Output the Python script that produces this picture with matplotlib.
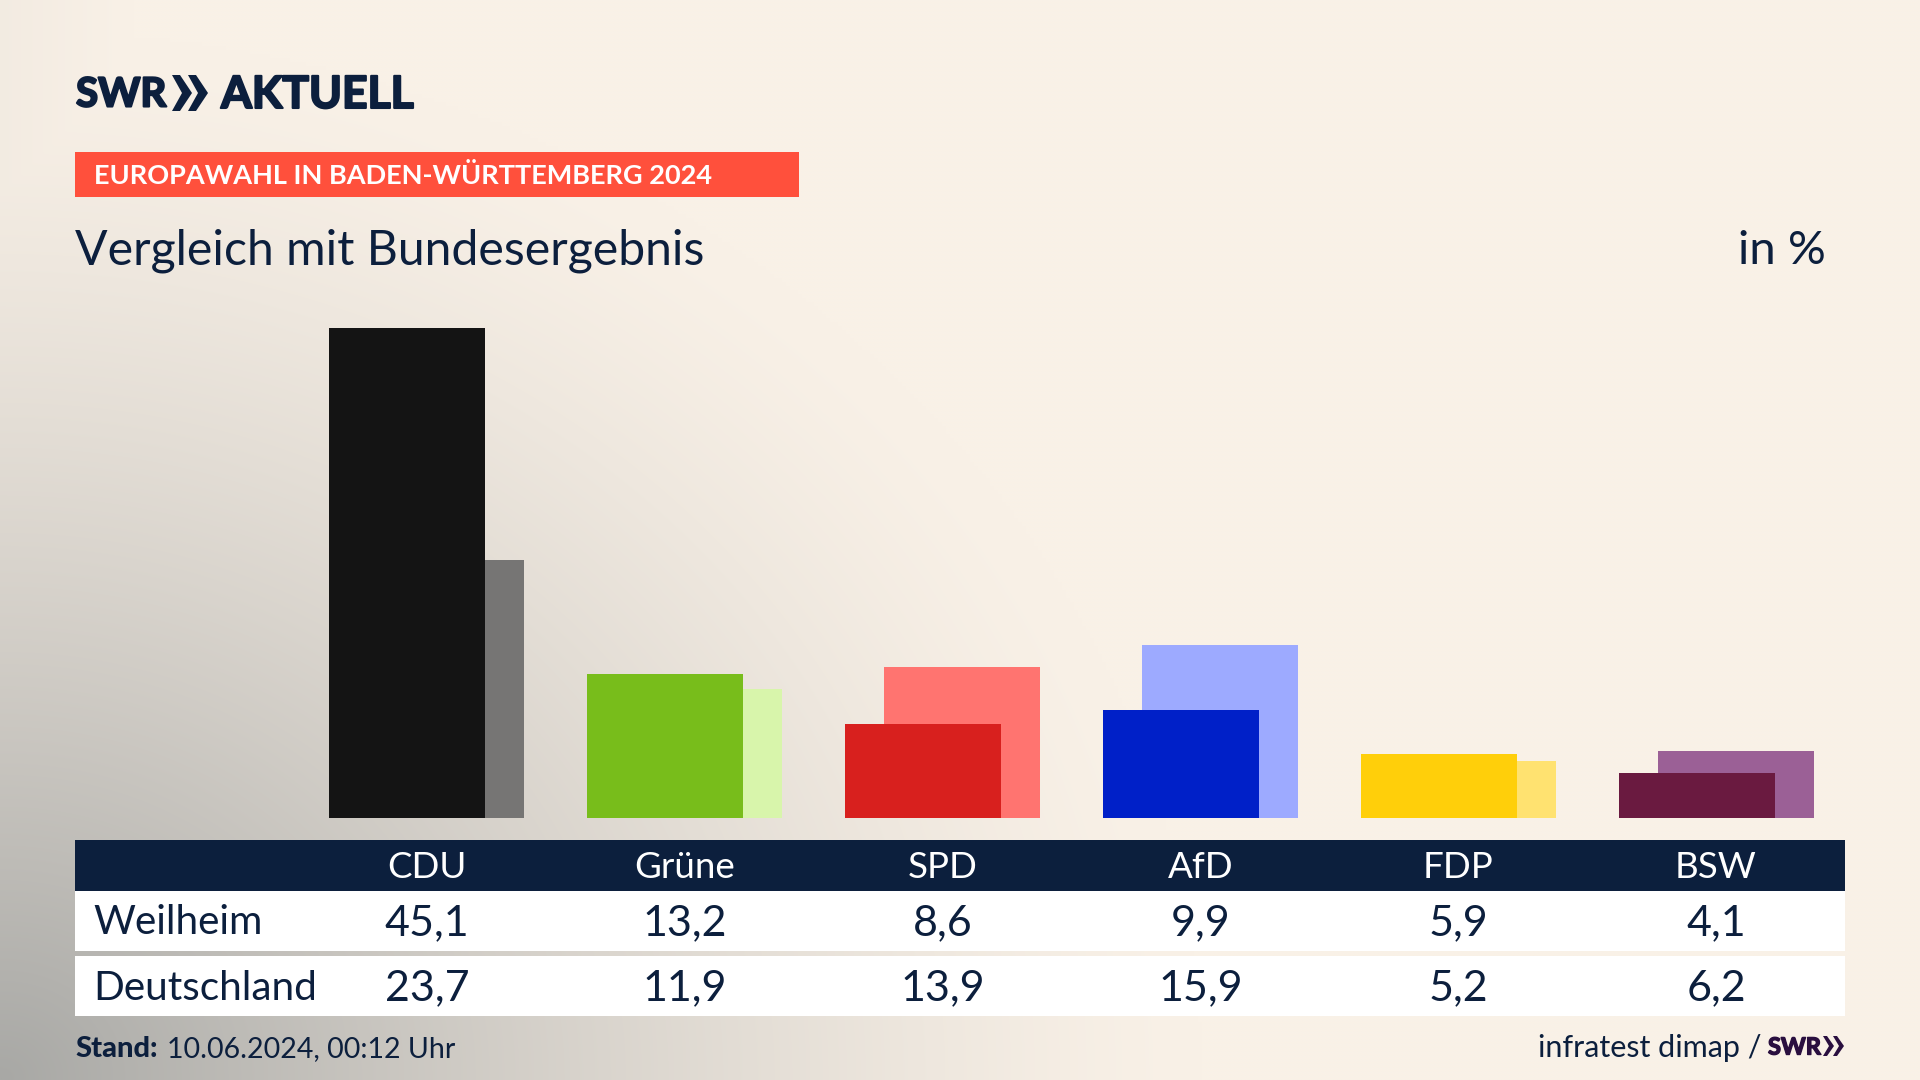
import matplotlib
matplotlib.use('Agg')
import matplotlib.pyplot as plt
import matplotlib.patheffects as pe
from matplotlib.patches import Rectangle, Polygon
import numpy as np

parties = ['CDU', 'Grüne', 'SPD', 'AfD', 'FDP', 'BSW']
weilheim = [45.1, 13.2, 8.6, 9.9, 5.9, 4.1]
deutschland = [23.7, 11.9, 13.9, 15.9, 5.2, 6.2]
colors_front = ['#141414', '#78bd1b', '#d8201e', '#0020c8', '#ffcf0a', '#6a1a40']
colors_back = ['#767574', '#d8f5ab', '#ff7470', '#9daaff', '#ffe270', '#9b6096']

NAVY = '#0c1f3d'
PURPLE = '#2a0f3f'
FONT = 'Lato'
W, H = 1920, 1080

fig = plt.figure(figsize=(19.2, 10.8), dpi=100)

# background, grey corner bottom left fading into cream
bg = fig.add_axes([0, 0, 1, 1], zorder=0)
yy, xx = np.mgrid[0:H:270j, 0:W:480j]
t = np.clip(1 - np.sqrt((xx / 1200) ** 2 + ((H - yy) / 1050) ** 2), 0, 1) ** 1.35
t = np.maximum(t, 0.08 * np.clip(1 - xx / 130, 0, 1))
cream = np.array([249, 241, 231]) / 255
grey = np.array([168, 168, 165]) / 255
img = cream + (grey - cream) * t[..., None]
bg.imshow(np.clip(img, 0, 1), extent=[0, W, H, 0], aspect='auto', interpolation='bilinear')
bg.axis('off')

# bars, in percent
ax = fig.add_axes([298 / W, (H - 818) / H, (1845 - 298) / W, 490.5 / H], zorder=1)
x = np.arange(len(parties))
ax.bar(x + 0.0756, deutschland, width=0.605, color=colors_back)
ax.bar(x - 0.0756, weilheim, width=0.605, color=colors_front)
ax.set_xlim(-0.5, 5.5)
ax.set_ylim(0, 45.1)
ax.axis('off')

# everything else in pixel coordinates
ov = fig.add_axes([0, 0, 1, 1], zorder=2)
ov.set_xlim(0, W)
ov.set_ylim(H, 0)
ov.axis('off')
ov.patch.set_alpha(0)

heavy = [pe.withStroke(linewidth=1.5, foreground=NAVY)]
ov.text(76, 95, 'SWR', fontsize=29, fontweight='bold', color=NAVY, family=FONT, va='center', path_effects=heavy)
for x0 in (172, 188):
    ov.add_patch(Polygon([(x0, 75), (x0 + 8, 75), (x0 + 20, 93), (x0 + 8, 111), (x0, 111), (x0 + 10, 93)],
                         color=NAVY, lw=0))
ov.text(221, 95, 'AKTUELL', fontsize=32, fontweight='bold', color=NAVY, family=FONT, va='center', path_effects=heavy)

ov.add_patch(Rectangle((75, 152), 724, 45, color='#ff503c', lw=0))
ov.text(94, 176, 'EUROPAWAHL IN BADEN-WÜRTTEMBERG 2024', fontsize=19.5, fontweight='bold',
        color='white', family=FONT, va='center')

ov.text(75, 251, 'Vergleich mit Bundesergebnis', fontsize=34.7, color=NAVY, family=FONT, va='center')
ov.text(1826, 251, 'in %', fontsize=34, color=NAVY, family=FONT, va='center', ha='right')

# table
ov.add_patch(Rectangle((75, 840), 1770, 51, color=NAVY, lw=0))
ov.add_patch(Rectangle((75, 891), 1770, 60, color='white', lw=0))
ov.add_patch(Rectangle((75, 956), 1770, 60, color='white', lw=0))

ov.text(93, 923, 'Weilheim', fontsize=29.2, color=NAVY, family=FONT, va='center')
ov.text(93, 988, 'Deutschland', fontsize=29.2, color=NAVY, family=FONT, va='center')

col_x = 427 + 257.8 * x
for i in range(len(parties)):
    ov.text(col_x[i], 867, parties[i], fontsize=26.5, color='white', family=FONT, ha='center', va='center')
    ov.text(col_x[i], 923, f'{weilheim[i]:.1f}'.replace('.', ','), fontsize=31, color=NAVY,
            family=FONT, ha='center', va='center')
    ov.text(col_x[i], 988, f'{deutschland[i]:.1f}'.replace('.', ','), fontsize=31, color=NAVY,
            family=FONT, ha='center', va='center')

# footer
ov.text(75, 1049, 'Stand:', fontsize=21, fontweight='black', color=NAVY, family=FONT, va='center')
ov.text(167, 1049, '10.06.2024, 00:12 Uhr', fontsize=20.5, color=NAVY, family=FONT, va='center')
ov.text(1761, 1048, 'infratest dimap /', fontsize=22, color=NAVY, family=FONT, va='center', ha='right')
ov.text(1768, 1047, 'SWR', fontsize=17, fontweight='bold', color=PURPLE, family=FONT, va='center',
        path_effects=[pe.withStroke(linewidth=1, foreground=PURPLE)])
for x0 in (1823, 1833):
    ov.add_patch(Polygon([(x0, 1036), (x0 + 4, 1036), (x0 + 11, 1046), (x0 + 4, 1056), (x0, 1056), (x0 + 6, 1046)],
                         color=PURPLE, lw=0))

fig.savefig('out.png', dpi=100)
